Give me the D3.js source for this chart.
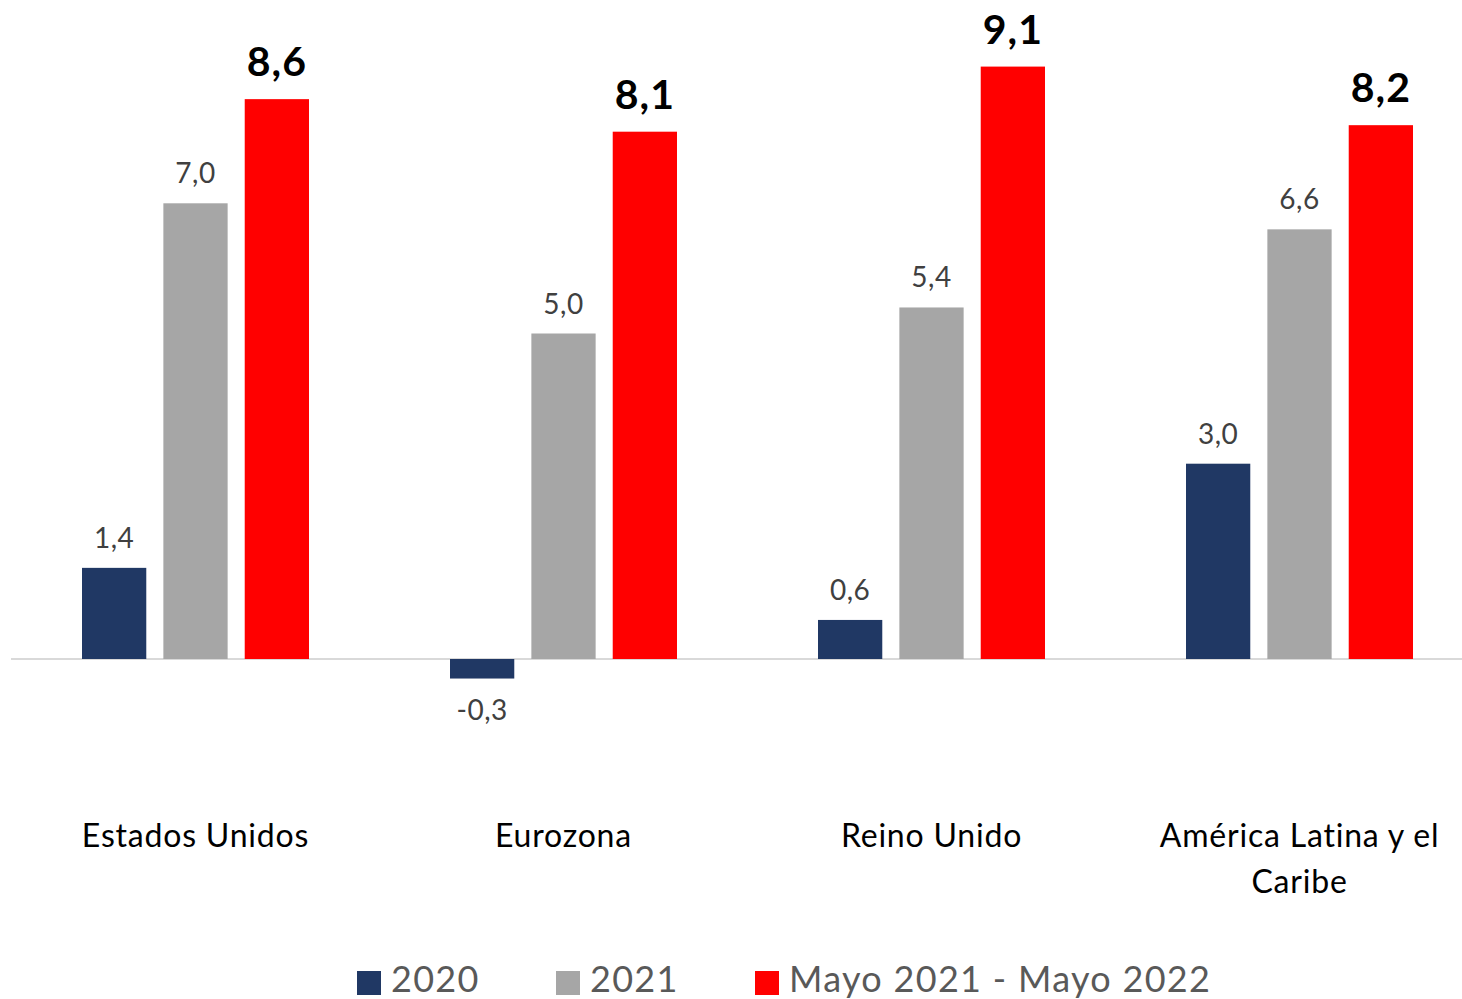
<!DOCTYPE html>
<html><head><meta charset="utf-8">
<script src="https://cdn.jsdelivr.net/npm/d3@7"></script>
<style>body{margin:0;background:#fff}svg{display:block}text{font-family:Lato,"Open Sans",sans-serif}</style>
</head><body>
<svg id="c" width="1462" height="999"></svg>
<script>
const categories = [["Estados Unidos"], ["Eurozona"], ["Reino Unido"], ["América Latina y el", "Caribe"]];
const seriesNames = ["2020", "2021", "Mayo 2021 - Mayo 2022"];
const values2020 = [1.4, -0.3, 0.6, 3.0];
const values2021 = [7.0, 5.0, 5.4, 6.6];
const valuesMayo = [8.6, 8.1, 9.1, 8.2];
const colors = ["#203864", "#A6A6A6", "#FF0000"];

const seriesVals = [values2020, values2021, valuesMayo];
const svg = d3.select("#c");
const catKeys = categories.map(c => c.join(" "));
const x = d3.scaleBand().domain(catKeys).range([11.5, 1483.5]).padding(0);
const xi = d3.scaleBand().domain(seriesNames).range([-113.5, 113.5]).paddingInner(0.21);
const y = d3.scaleLinear().domain([0, 9.1]).range([659, 659 - 9.1 * 65.1]);
const fmt = v => d3.format(".1f")(v).replace(".", ",").replace("\u2212", "-");

// axis line
svg.append("line").attr("x1", 11).attr("x2", 1462).attr("y1", y(0)).attr("y2", y(0))
  .attr("stroke", "#D9D9D9").attr("stroke-width", 2);

seriesNames.forEach((s, si) => {
  const g = svg.append("g");
  catKeys.forEach((k, ci) => {
    const v = seriesVals[si][ci];
    const cx = x(k) + x.bandwidth() / 2 + xi(s);
    g.append("rect").attr("x", cx).attr("width", xi.bandwidth())
      .attr("y", Math.min(y(v), y(0))).attr("height", Math.abs(y(v) - y(0)))
      .attr("fill", colors[si]);
    const bold = si === 2;
    const lx = cx + xi.bandwidth() / 2;
    let ly;
    if (v >= 0) ly = y(v) - (bold ? 23 : 20);
    else ly = y(v) + 41;
    g.append("text").attr("x", lx).attr("y", ly).attr("text-anchor", "middle")
      .attr("font-size", bold ? 41 : 28).attr("font-weight", bold ? "bold" : "normal")
      .attr("letter-spacing", bold ? 1 : 0.5)
      .attr("fill", bold ? "#000" : "#404040").text(fmt(v));
  });
});

// category labels
categories.forEach((lines, ci) => {
  const cx = x(catKeys[ci]) + x.bandwidth() / 2;
  lines.forEach((ln, li) => {
    svg.append("text").attr("x", cx).attr("y", 847 + li * 46).attr("text-anchor", "middle")
      .attr("font-size", 32).attr("letter-spacing", 0.8).attr("fill", "#000").text(ln);
  });
});

// legend
const legX = [357, 556, 755];
seriesNames.forEach((s, si) => {
  svg.append("rect").attr("x", legX[si]).attr("y", 971).attr("width", 24).attr("height", 24).attr("fill", colors[si]);
  svg.append("text").attr("x", legX[si] + 34).attr("y", 992).attr("font-size", 36)
    .attr("letter-spacing", 1.3).attr("fill", "#595959").text(s);
});
</script>
</body></html>
